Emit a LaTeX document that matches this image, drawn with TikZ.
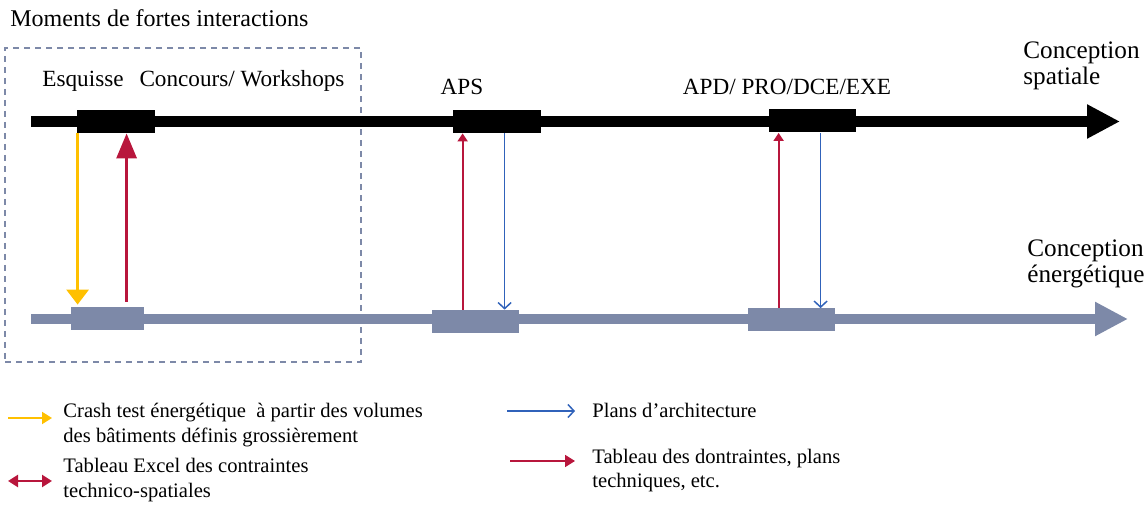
\documentclass[tikz,border=0pt]{standalone}
\usepackage{fontspec}
\setmainfont{Liberation Serif}
\usepackage{tikz}
\usetikzlibrary{arrows.meta,positioning,calc}
\definecolor{mfiInk}{HTML}{000000}
\definecolor{mfiSlate}{HTML}{7D89A8}
\definecolor{mfiYellow}{HTML}{FFC000}
\definecolor{mfiRed}{HTML}{B8163C}
\definecolor{mfiBlue}{HTML}{3062BA}
\tikzset{
  mfiSpatial/.style={fill=mfiInk,draw=none},
  mfiEnergy/.style={fill=mfiSlate,draw=none},
  mfiCrash/.style={draw=mfiYellow,line width=1.5pt},
  mfiExcel/.style={draw=mfiRed,line width=1.5pt},
  mfiTable/.style={draw=mfiRed,line width=0.9pt,-{Triangle[length=4pt,width=5pt]}},
  mfiPlans/.style={draw=mfiBlue,line width=0.75pt,-{Straight Barb[length=3pt,width=6.5pt]}}
}

\begin{document}
\begin{tikzpicture}[x=0.5pt,y=-0.5pt,
  phase/.style={inner sep=0pt,minimum height=11.5pt},
  stage/.style={font=\fontsize{11.6}{13}\selectfont,anchor=base,inner sep=0pt},
  track/.style={font=\fontsize{12.6}{13.4}\selectfont,align=left,anchor=base west,inner sep=0pt},
  legend/.style={font=\fontsize{10.3}{12.5}\selectfont,align=left,anchor=base west,inner sep=0pt}]
\useasboundingbox (0,0) rectangle (1144,506);
\node[font=\fontsize{12}{14}\selectfont,anchor=base west,inner sep=0pt] (title) at (10,27) {Moments de fortes interactions};
\node[draw=mfiSlate,line width=1pt,dash pattern=on 3pt off 2.5pt,
  minimum width=178pt,minimum height=157pt,inner sep=0pt] (moments) at (183,205) {};
% the two tracks
\coordinate (spStart) at (31,121.5);
\coordinate (spEnd) at (1120,121.5);
\coordinate (enStart) at (31,319);
\coordinate (enEnd) at (1128,319);
\draw[mfiInk,line width=5.5pt,-{Triangle[length=16.5pt,width=16pt]}] (spStart) -- (spEnd);
\draw[mfiSlate,line width=5pt,-{Triangle[length=16.5pt,width=16pt]}] (enStart) -- (enEnd);
\node[phase,mfiSpatial,minimum width=39pt] (esqS) at (116,121.5) {};
\node[phase,mfiSpatial,minimum width=44pt] (apsS) at (497,121.5) {};
\node[phase,mfiSpatial,minimum width=43.5pt] (apdS) at (812.5,121) {};
\node[phase,mfiEnergy,minimum width=36.5pt] (esqE) at (107.5,318.5) {};
\node[phase,mfiEnergy,minimum width=43.5pt] (apsE) at (475.5,321.5) {};
\node[phase,mfiEnergy,minimum width=43.5pt] (apdE) at (791.5,320) {};
\node[stage] (esquisse) at (83,87) {Esquisse};
\node[stage] (concours) at (242,87) {Concours/ Workshops};
\node[stage] (aps) at (462,95) {APS};
\node[stage] (apd) at (787,95) {APD/ PRO/DCE/EXE};
\node[track] (spatial) at (1023,85) {Conception\\spatiale};
\node[track] (energy) at (1027,283) {Conception\\énergétique};
% exchanges
\draw[mfiCrash,-{Triangle[length=7.5pt,width=11pt]}] ([xshift=0.5pt]esqS.south west) -- ([xshift=3.5pt,yshift=1pt]esqE.north west);
\draw[mfiExcel,-{Triangle[length=12.5pt,width=10pt]}] ([xshift=28pt,yshift=2.5pt]esqE.north west) -- ([xshift=25pt]esqS.south west);
\draw[mfiTable] ([xshift=15.5pt]apsE.north west) -- ([xshift=5pt]apsS.south west);
\draw[mfiPlans] ([xshift=26pt]apsS.south west) -- ([xshift=36.5pt]apsE.north west);
\draw[mfiTable] ([xshift=15.5pt]apdE.north west) -- ([xshift=5pt]apdS.south west);
\draw[mfiPlans] ([xshift=26pt]apdS.south west) -- ([xshift=36.5pt]apdE.north west);
% legend
\coordinate (lgCrashA) at (8,418);
\coordinate (lgCrashB) at (52,418);
\coordinate (lgExcelA) at (8,481);
\coordinate (lgExcelB) at (52,481);
\coordinate (lgPlansA) at (507,411);
\coordinate (lgPlansB) at (575,411);
\coordinate (lgTableA) at (510,461);
\coordinate (lgTableB) at (575,461);
\draw[mfiCrash,line width=1pt,-{Triangle[length=5pt,width=6pt]}] (lgCrashA) -- (lgCrashB);
\draw[mfiExcel,line width=1.2pt,{Triangle[length=5pt,width=6pt]}-{Triangle[length=5pt,width=6pt]}] (lgExcelA) -- (lgExcelB);
\draw[mfiPlans] (lgPlansA) -- (lgPlansB);
\draw[mfiTable,-{Triangle[length=5pt,width=6pt]}] (lgTableA) -- (lgTableB);
\node[legend] (lgCrash) at (63,443) {Crash test énergétique\ \ à partir des volumes\\des bâtiments définis grossièrement};
\node[legend] (lgExcel) at (63,498) {Tableau Excel des contraintes\\technico-spatiales};
\node[legend] (lgPlans) at (592,418) {Plans d’architecture};
\node[legend] (lgTable) at (592,488) {Tableau des dontraintes, plans\\techniques, etc.};
\end{tikzpicture}
\end{document}
